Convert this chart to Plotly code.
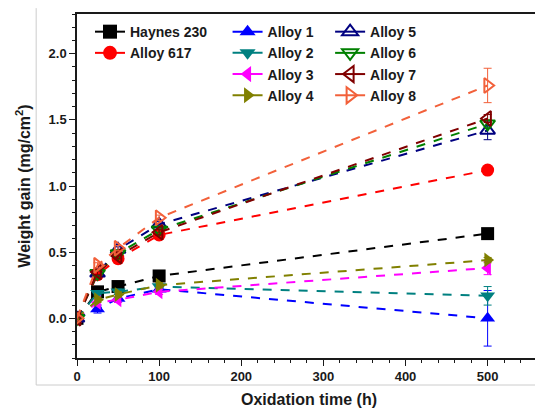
import plotly.graph_objects as go

time_h = [0, 25, 50, 100, 500]

series_names = ["Haynes 230", "Alloy 617", "Alloy 1", "Alloy 2", "Alloy 3",
                "Alloy 4", "Alloy 5", "Alloy 6", "Alloy 7", "Alloy 8"]

haynes_230 = [0, 0.20, 0.24, 0.32, 0.64]
alloy_617 = [0, 0.33, 0.45, 0.63, 1.12]
alloy_1 = [0, 0.07, 0.15, 0.22, 0.00]
alloy_2 = [0, 0.19, 0.20, 0.24, 0.17]
alloy_3 = [0, 0.12, 0.14, 0.20, 0.38]
alloy_4 = [0, 0.14, 0.18, 0.25, 0.44]
alloy_5 = [0, 0.34, 0.52, 0.71, 1.42]
alloy_6 = [0, 0.34, 0.49, 0.67, 1.47]
alloy_7 = [0, 0.35, 0.47, 0.65, 1.51]
alloy_8 = [0, 0.40, 0.53, 0.76, 1.76]

err_haynes_230 = [0.02, 0.02, 0.02, 0.02, 0.02]
err_alloy_617 = [0.02, 0.02, 0.02, 0.02, 0.02]
err_alloy_1 = [0.02, 0.03, 0.03, 0.02, 0.21]
err_alloy_2 = [0.02, 0.02, 0.02, 0.02, 0.07]
err_alloy_3 = [0.02, 0.02, 0.02, 0.02, 0.05]
err_alloy_4 = [0.02, 0.02, 0.02, 0.02, 0.02]
err_alloy_5 = [0.02, 0.02, 0.02, 0.02, 0.07]
err_alloy_6 = [0.02, 0.02, 0.02, 0.02, 0.03]
err_alloy_7 = [0.02, 0.02, 0.02, 0.02, 0.03]
err_alloy_8 = [0.02, 0.02, 0.02, 0.02, 0.13]

values = [haynes_230, alloy_617, alloy_1, alloy_2, alloy_3,
          alloy_4, alloy_5, alloy_6, alloy_7, alloy_8]
errors = [err_haynes_230, err_alloy_617, err_alloy_1, err_alloy_2, err_alloy_3,
          err_alloy_4, err_alloy_5, err_alloy_6, err_alloy_7, err_alloy_8]

colors = ["#000000", "#FF0000", "#0000FF", "#008080", "#FF00FF",
          "#808000", "#000080", "#008000", "#800000", "#F2603A"]
symbols = ["square", "circle", "triangle-up", "triangle-down", "triangle-left",
           "triangle-right", "triangle-up-open", "triangle-down-open",
           "triangle-left-open", "triangle-right-open"]
legend_ids = ["legend", "legend", "legend2", "legend2", "legend2", "legend2",
              "legend3", "legend3", "legend3", "legend3"]

fig = go.Figure()
for name, y, e, c, s in zip(series_names, values, errors, colors, symbols):
    open_m = s.endswith("open")
    fig.add_trace(go.Scatter(
        x=time_h, y=y, name=name, mode="lines+markers", showlegend=False,
        line=dict(color=c, width=2, dash="dash"),
        marker=dict(symbol=s, size=13, color=c,
                    line=dict(color=c, width=2 if open_m else 0)),
        error_y=dict(type="data", array=e, visible=True, color=c,
                     thickness=1, width=4),
    ))

# legend entries (solid line sample with marker)
for name, c, s, lg in zip(series_names, colors, symbols, legend_ids):
    open_m = s.endswith("open")
    fig.add_trace(go.Scatter(
        x=[None], y=[None], name=name, mode="lines+markers",
        line=dict(color=c, width=2),
        marker=dict(symbol=s, size=14, color=c,
                    line=dict(color=c, width=2 if open_m else 0)),
        legend=lg, hoverinfo="skip",
    ))

font_bold = "Liberation Sans"
leg_common = dict(font=dict(family=font_bold, size=14, color="#1a1a1a", weight="bold"),
                  bgcolor="rgba(0,0,0,0)", borderwidth=0, tracegroupgap=0,
                  itemwidth=30, xanchor="left", yanchor="top", traceorder="normal")

# The page body adds an 8px offset; the figure is sized to compensate.
fig.update_layout(
    width=535, height=406,
    margin=dict(l=69, r=2, t=6, b=56, autoexpand=False),
    paper_bgcolor="white", plot_bgcolor="white",
    font=dict(family=font_bold, size=13, color="#1a1a1a"),
    showlegend=True,
    legend=dict(x=0.028, y=0.994, **leg_common),
    legend2=dict(x=0.3245, y=0.994, **leg_common),
    legend3=dict(x=0.5455, y=0.994, **leg_common),
    xaxis=dict(
        range=[0, 565], tickvals=[0, 100, 200, 300, 400, 500], automargin=False,
        showline=True, linecolor="#1a1a1a", linewidth=1.5, mirror=True,
        ticks="outside", ticklen=6, tickwidth=1.2, tickcolor="#1a1a1a",
        minor=dict(dtick=20, ticks="outside", ticklen=3, tickcolor="#1a1a1a"),
        showgrid=False, zeroline=False,
        tickfont=dict(family=font_bold, size=13, weight="bold"),
        title=dict(text="Oxidation time (h)", standoff=10,
                   font=dict(family=font_bold, size=16, weight="bold")),
    ),
    yaxis=dict(
        range=[-0.3, 2.3], tickvals=[0, 0.5, 1.0, 1.5, 2.0], tickformat=".1f",
        automargin=False,
        showline=True, linecolor="#1a1a1a", linewidth=1.5, mirror=True,
        ticks="outside", ticklen=6, tickwidth=1.2, tickcolor="#1a1a1a",
        minor=dict(dtick=0.1, ticks="outside", ticklen=3, tickcolor="#1a1a1a"),
        showgrid=False, zeroline=False,
        tickfont=dict(family=font_bold, size=13, weight="bold"),
        title=dict(text="Weight gain (mg/cm<sup>2</sup>)", standoff=14,
                   font=dict(family=font_bold, size=16, weight="bold")),
    ),
    shapes=[
        dict(type="line", xref="paper", yref="paper", x0=-0.088, x1=-0.088,
             y0=1.017, y1=-0.0785, line=dict(color="#cccccc", width=1)),
        dict(type="line", xref="paper", yref="paper", x0=-0.088, x1=1.01,
             y0=-0.0785, y1=-0.0785, line=dict(color="#cccccc", width=1)),
    ],
)

fig.write_html("out.html")
